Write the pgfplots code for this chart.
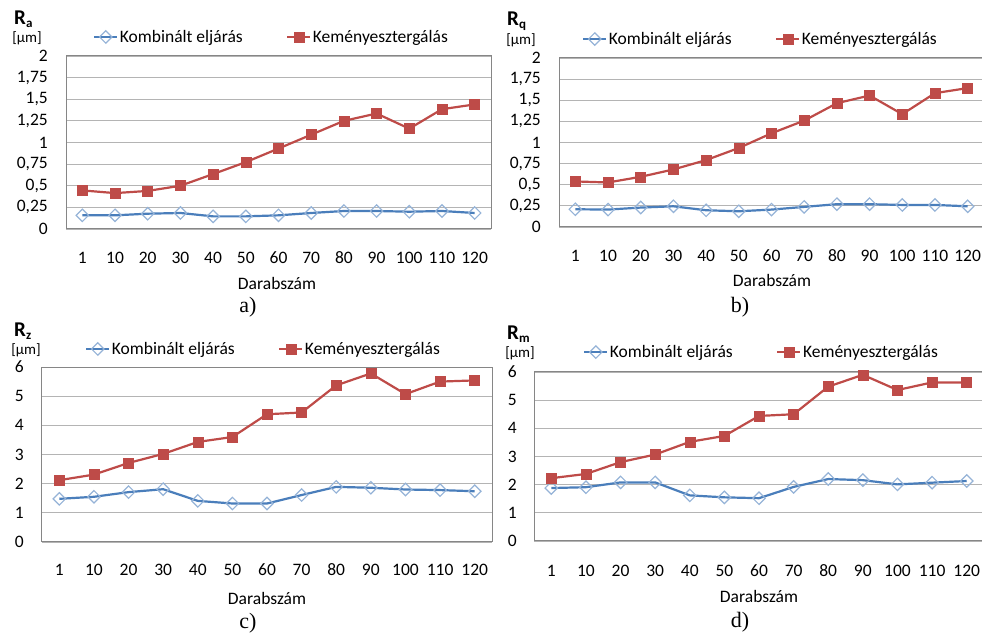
\documentclass[border=0pt]{standalone}
\usepackage{pgfplots}
\usepackage{pgfplotstable}
\pgfplotsset{compat=1.18}
\usepackage{fontspec}
\setmainfont{Carlito}
\newfontfamily\serifnum{Liberation Serif}
\definecolor{blueline}{HTML}{4A7EBB}
\definecolor{bluemark}{HTML}{95B3D7}
\definecolor{redline}{HTML}{BE4B48}
\definecolor{gridgray}{HTML}{B4B4B4}
\definecolor{axisgray}{HTML}{868686}

\pgfplotstableread{
x komb kem
0 0.158 0.446
1 0.158 0.415
2 0.177 0.44
3 0.185 0.50
4 0.146 0.635
5 0.146 0.773
6 0.158 0.93
7 0.185 1.09
8 0.208 1.25
9 0.208 1.335
10 0.20 1.16
11 0.208 1.385
12 0.185 1.44
}\dataA
\pgfplotstableread{
x komb kem
0 0.21 0.539
1 0.206 0.527
2 0.23 0.594
3 0.245 0.681
4 0.198 0.792
5 0.186 0.935
6 0.206 1.109
7 0.238 1.259
8 0.27 1.465
9 0.27 1.556
10 0.261 1.335
11 0.261 1.584
12 0.245 1.644
}\dataB
\pgfplotstableread{
x komb kem
0 1.48 2.12
1 1.55 2.31
2 1.71 2.71
3 1.81 3.02
4 1.41 3.43
5 1.32 3.60
6 1.32 4.38
7 1.61 4.44
8 1.89 5.37
9 1.86 5.78
10 1.80 5.07
11 1.78 5.50
12 1.74 5.54
}\dataC
\pgfplotstableread{
x komb kem
0 1.88 2.23
1 1.91 2.38
2 2.08 2.80
3 2.08 3.07
4 1.62 3.52
5 1.55 3.73
6 1.52 4.44
7 1.92 4.50
8 2.20 5.48
9 2.16 5.90
10 2.01 5.36
11 2.07 5.63
12 2.13 5.63
}\dataD

\pgfplotsset{
  panel/.style={
    scale only axis, anchor=south west, clip=false,
    xmin=-0.5, xmax=12.5,
    xtick={0,...,12},
    xticklabels={1,10,20,30,40,50,60,70,80,90,100,110,120},
    major tick length=0pt,
    ymajorgrids,
    grid style={color=gridgray, line width=0.9pt},
    axis line style={color=axisgray, line width=1pt},
    /pgf/number format/assume math mode=true,
    tick label style={font=\fontsize{17.5}{18}\selectfont, inner sep=0pt},
    xticklabel style={anchor=center, yshift=-29pt},
    yticklabel style={anchor=east, xshift=-18pt},
    legend columns=2,
    legend style={draw=none, fill=none, anchor=west, inner xsep=0pt,
      inner ysep=0pt,
      font=\fontsize{17.5}{18}\selectfont,
      nodes={inner sep=1.5pt},
      /tikz/every even column/.append style={column sep=42pt}},
    legend image code/.code={\draw[mark repeat=2, mark phase=2, #1]
      plot coordinates {(0pt,0pt) (11.5pt,0pt) (23pt,0pt)};},
  },
  smallax/.style={ymin=0, ymax=2, ytick={0,0.25,0.5,0.75,1,1.25,1.5,1.75,2},
    yticklabels={0,{0,25},{0,5},{0,75},1,{1,25},{1,5},{1,75},2}},
  bigax/.style={ymin=0, ymax=6, ytick={0,1,2,3,4,5,6},
    yticklabels={0,1,2,3,4,5,6}},
  blueser/.style={color=blueline, line width=2.2pt, mark=square,
    mark size=4.4pt,
    mark options={rotate=45, draw=bluemark, fill=none, line width=1.2pt, solid}},
  redser/.style={color=redline, line width=2.2pt, mark=square*,
    mark size=5pt,
    mark options={draw=redline, fill=redline, line width=0.5pt, solid}},
}

\newcommand{\lab}[1]{\fontsize{17.5}{18}\selectfont #1}
\newcommand{\rsym}[1]{{\fontsize{21}{21}\selectfont\bfseries R}{\fontsize{13}{13}\selectfont\bfseries\raisebox{-3.5pt}{#1}}}

\begin{document}
\begin{tikzpicture}[x=1pt,y=1pt]
\path[use as bounding box] (0,0) rectangle (982,634);

% Panel a
\begin{axis}[panel, smallax, at={(66pt,405pt)}, width=425pt, height=173pt,
  legend style={at={(axis description cs:0.0635,1.110)}}]
  \addplot[blueser] table[x=x,y=komb]{\dataA};
  \addlegendentry{Kombinált eljárás}
  \addplot[redser] table[x=x,y=kem]{\dataA};
  \addlegendentry{Keményesztergálás}
\end{axis}
\node at (277,351) {\lab{Darabszám}};
\node at (248,327) {\fontsize{22}{22}\selectfont\serifnum a)};
\node[anchor=west, inner sep=0pt] at (14,615) {\rsym{a}};
\node at (27,596) {\fontsize{15}{15}\selectfont [µm]};

% Panel b
\begin{axis}[panel, smallax, at={(559pt,407pt)}, width=425pt, height=169pt,
  legend style={at={(axis description cs:0.054,1.112)}}]
  \addplot[blueser] table[x=x,y=komb]{\dataB};
  \addlegendentry{Kombinált eljárás}
  \addplot[redser] table[x=x,y=kem]{\dataB};
  \addlegendentry{Keményesztergálás}
\end{axis}
\node at (772,354) {\lab{Darabszám}};
\node at (740,327) {\fontsize{22}{22}\selectfont\serifnum b)};
\node[anchor=west, inner sep=0pt] at (507,613) {\rsym{q}};
\node at (521,594) {\fontsize{15}{15}\selectfont [µm]};

% Panel c
\begin{axis}[panel, bigax, at={(42pt,92pt)}, width=450pt, height=175pt,
  xticklabel style={yshift=1pt},
  legend style={at={(axis description cs:0.0956,1.103)}}]
  \addplot[blueser] table[x=x,y=komb]{\dataC};
  \addlegendentry{Kombinált eljárás}
  \addplot[redser] table[x=x,y=kem]{\dataC};
  \addlegendentry{Keményesztergálás}
\end{axis}
\node at (267,36) {\lab{Darabszám}};
\node at (248,11) {\fontsize{22}{22}\selectfont\serifnum c)};
\node[anchor=west, inner sep=0pt] at (14,303) {\rsym{z}};
\node at (26,284) {\fontsize{15}{15}\selectfont [µm]};

% Panel d
\begin{axis}[panel, bigax, at={(534pt,93pt)}, width=450pt, height=169pt,
  xticklabel style={yshift=-1pt},
  yticklabel style={xshift=1pt},
  legend style={at={(axis description cs:0.109,1.118)}}]
  \addplot[blueser] table[x=x,y=komb]{\dataD};
  \addlegendentry{Kombinált eljárás}
  \addplot[redser] table[x=x,y=kem]{\dataD};
  \addlegendentry{Keményesztergálás}
\end{axis}
\node at (759,38) {\lab{Darabszám}};
\node at (740,12) {\fontsize{22}{22}\selectfont\serifnum d)};
\node[anchor=west, inner sep=0pt] at (507,300) {\rsym{m}};
\node at (520,281) {\fontsize{15}{15}\selectfont [µm]};
\end{tikzpicture}
\end{document}
